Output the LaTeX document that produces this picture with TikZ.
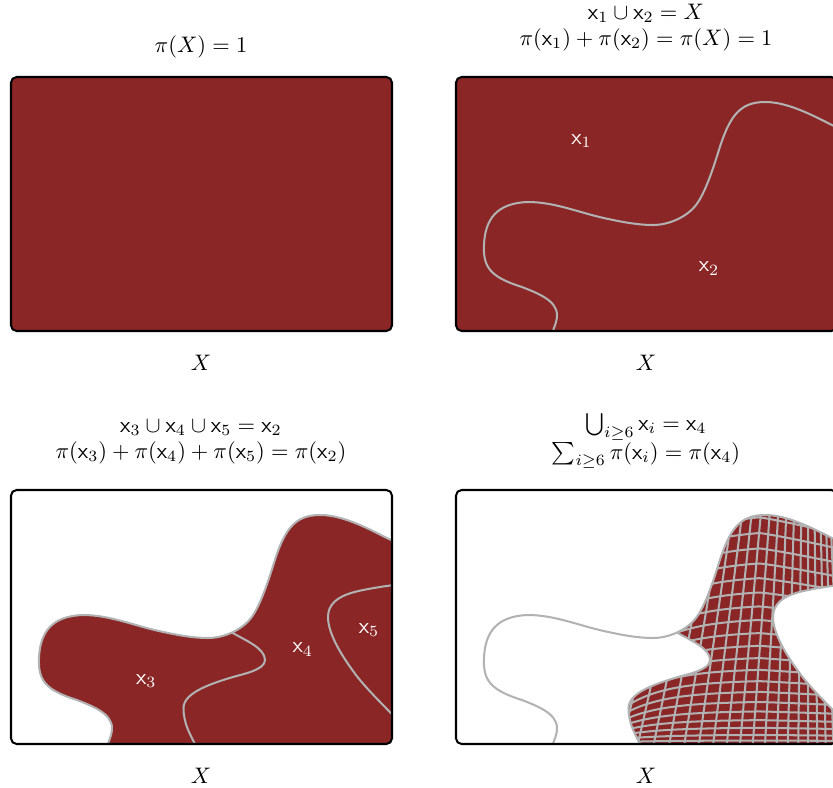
\documentclass[tikz,border=0pt]{standalone}
\usepackage{amsmath}
\definecolor{xred}{RGB}{139,38,39}
\definecolor{cgray}{RGB}{178,178,178}
\tikzset{
  mainc/.style={insert path={(95,264) .. controls (95,254) and (101,248) .. (101,238)
     .. controls (101,223) and (80,215.6) .. (66,210)
     .. controls (34,200) and (27,190) .. (28,168)
     .. controls (29,143) and (40,126) .. (72,125)
     .. controls (99,125) and (124,136) .. (150,141.5)
     .. controls (165.5,144.8) and (181,148) .. (197,148)
     .. controls (213,148) and (230.9,139.9) .. (240,128)
     .. controls (249.2,116.2) and (257.5,90.25) .. (262,76)
     .. controls (273,40) and (283,25) .. (309,25)
     .. controls (340,25) and (375,49.5) .. (405,62)}},
  cthreefour/.style={insert path={(221,142.5) .. controls (233.9,150.2) and (254,158) .. (254,170)
     .. controls (254,180) and (232,184) .. (222,187)
     .. controls (202.8,192.8) and (172.5,202) .. (172.5,218)
     .. controls (172.5,234) and (179.6,245.2) .. (185,256)
     .. controls (187,260) and (189,264) .. (191,268)}},
  cfourfive/.style={insert path={(400,93) .. controls (380,95) and (353,99) .. (340,103)
     .. controls (327,107) and (317,114) .. (317,127)
     .. controls (317,145) and (333,169) .. (345,185)
     .. controls (357,201) and (385,228) .. (400,243)}},
  panelbox/.style={draw=black,line width=0.9pt,rounded corners=2.5pt},
  curve/.style={draw=cgray,line width=0.9pt},
  gridline/.style={draw=cgray,line width=0.9pt},
  lab/.style={text=white,anchor=base,inner sep=0pt},
  title/.style={anchor=base,inner sep=0pt}
}
\begin{document}
\begin{tikzpicture}[x=0.4454pt,y=-0.4454pt]
\useasboundingbox (0,0) rectangle (833,788);

% ---------- Panel 1 ----------
\fill[xred,rounded corners=2.5pt] (11,77) rectangle (392,331);
\draw[panelbox] (11,77) rectangle (392,331);

% ---------- Panel 2 ----------
\begin{scope}[shift={(456,77)}]
  \begin{scope}
    \clip[rounded corners=2.5pt] (0,0) rectangle (381,254);
    \fill[xred] (0,0) rectangle (381,254);
    \draw[curve] [mainc];
  \end{scope}
  \draw[panelbox] (0,0) rectangle (381,254);
\end{scope}

% ---------- Panel 3 ----------
\begin{scope}[shift={(11,490)}]
  \begin{scope}
    \clip[rounded corners=2.5pt] (0,0) rectangle (381,254);
    \fill[white] (0,0) rectangle (381,254);
    \fill[xred] [mainc] -- (420,300) -- (80,300) -- cycle;
    \draw[curve] [mainc];
    \draw[curve] [cthreefour];
    \draw[curve] [cfourfive];
  \end{scope}
  \draw[panelbox] (0,0) rectangle (381,254);
\end{scope}

% ---------- Panel 4 ----------
\begin{scope}[shift={(456,490)}]
  \begin{scope}
    \clip[rounded corners=2.5pt] (0,0) rectangle (381,254);
    \fill[white] (0,0) rectangle (381,254);
    \begin{scope}
      \clip [mainc] -- (420,300) -- (80,300) -- cycle;
      \fill[xred] (0,0) rectangle (420,300);
      \foreach \k in {1,...,24}{
        \pgfmathsetmacro\kp{\k^1.5}
        \draw[gridline] ({381.35-1.577*\kp},-5) -- ({396.9-2.419*\kp},260);
      }
      \foreach \j in {1,...,22}{
        \pgfmathsetmacro\tj{(\j/20)^1.4}
        \draw[gridline] plot[domain=150:400,samples=50,smooth] (\x,{254-\tj*(230-110*exp(-(\x-164)/40)-0.25*max(0,\x-304))});
      }
      \fill[white] (-10,-10) -- (221,-10) -- (221,142.5)
         .. controls (233.9,150.2) and (254,158) .. (254,170)
         .. controls (254,180) and (232,184) .. (222,187)
         .. controls (202.8,192.8) and (172.5,202) .. (172.5,218)
         .. controls (172.5,234) and (179.6,245.2) .. (185,256)
         .. controls (187,260) and (189,264) .. (191,268)
         -- (-10,270) -- cycle;
      \fill[white] [cfourfive] -- cycle;
    \end{scope}
    \draw[curve] [mainc];
    \draw[curve] [cthreefour];
    \draw[curve] [cfourfive];
  \end{scope}
  \draw[panelbox] (0,0) rectangle (381,254);
\end{scope}

% ---------- Titles ----------
\node[title] (t1) at (201,52) {$\pi(X) = 1$};
\node[title] (t2a) at (646,19.5) {$\mathsf{x}_1 \cup \mathsf{x}_2 = X$};
\node[title] (t2b) at (646,45) {$\pi(\mathsf{x}_1) + \pi(\mathsf{x}_2) = \pi(X) = 1$};
\node[title] (t3a) at (201,432) {$\mathsf{x}_3 \cup \mathsf{x}_4 \cup \mathsf{x}_5 = \mathsf{x}_2$};
\node[title] (t3b) at (201,458) {$\pi(\mathsf{x}_3) + \pi(\mathsf{x}_4) + \pi(\mathsf{x}_5) = \pi(\mathsf{x}_2)$};
\node[title] (t4a) at (646,430.5) {$\bigcup_{i\geq 6} \mathsf{x}_i = \mathsf{x}_4$};
\node[title] (t4b) at (646,459) {$\sum_{i\geq 6} \pi(\mathsf{x}_i) = \pi(\mathsf{x}_4)$};

% ---------- Axis labels ----------
\node[title] (X1) at (201,370) {$X$};
\node[title] (X2) at (646,370) {$X$};
\node[title] (X3) at (201,783) {$X$};
\node[title] (X4) at (646,783) {$X$};

% ---------- Region labels ----------
\node[lab] (l1) at (581.5,144.5) {$\mathsf{x}_1$};
\node[lab] (l2) at (709,271.7) {$\mathsf{x}_2$};
\node[lab] (l3) at (146.3,684) {$\mathsf{x}_3$};
\node[lab] (l4) at (302.8,652.7) {$\mathsf{x}_4$};
\node[lab] (l5) at (369,633.3) {$\mathsf{x}_5$};
\end{tikzpicture}
\end{document}
